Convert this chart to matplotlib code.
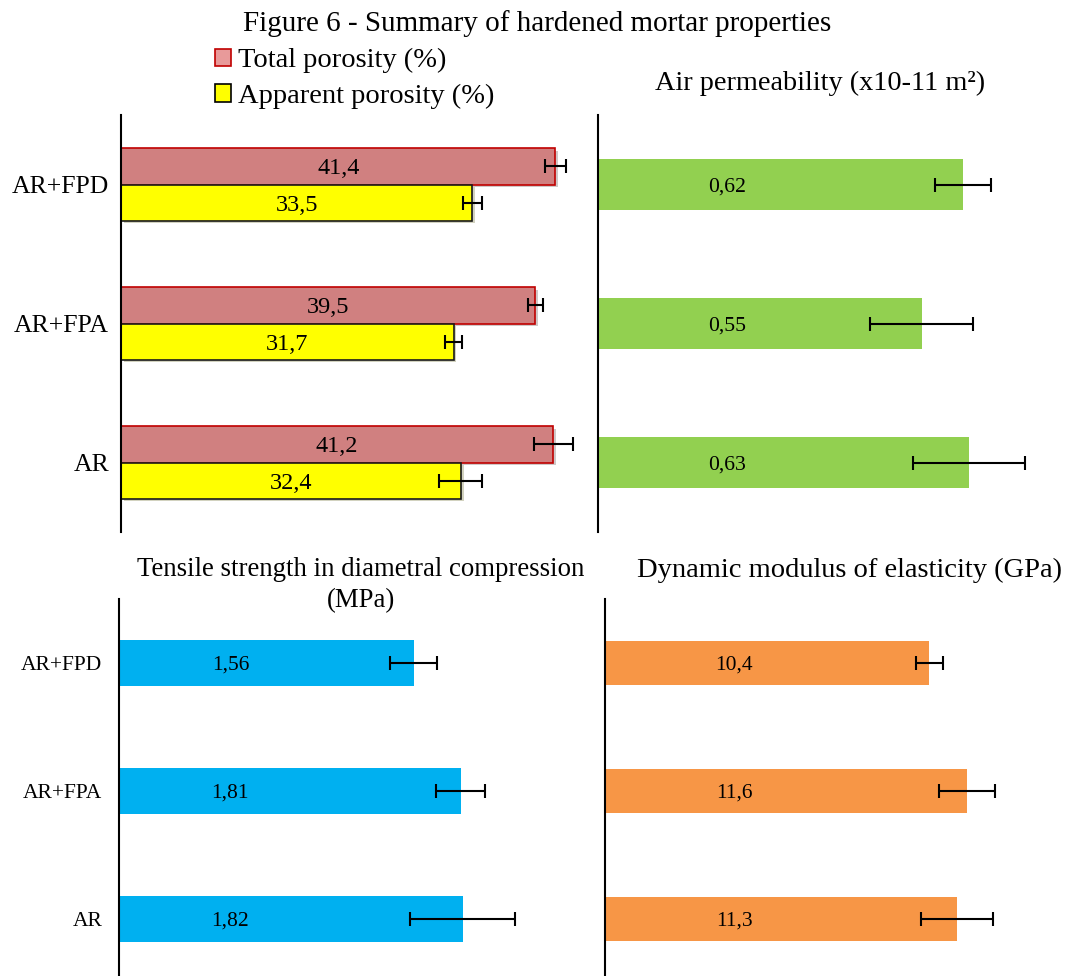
import matplotlib
matplotlib.use("Agg")
import matplotlib.pyplot as plt
import matplotlib.patheffects as pe
from matplotlib.patches import Patch

plt.rcParams['font.family'] = ['Liberation Serif', 'DejaVu Serif']

# mortar compositions, bottom to top
mixes = ['AR', 'AR+FPA', 'AR+FPD']

total_porosity = [41.2, 39.5, 41.4]
total_porosity_err = [1.85, 0.7, 1.0]
apparent_porosity = [32.4, 31.7, 33.5]
apparent_porosity_err = [2.05, 0.8, 0.95]

air_permeability = [0.63, 0.55, 0.62]
air_permeability_err = [0.095, 0.087, 0.047]

tensile_strength = [1.82, 1.81, 1.56]
tensile_strength_err = [0.28, 0.13, 0.125]

elastic_modulus = [11.3, 11.6, 10.4]
elastic_modulus_err = [1.15, 0.9, 0.43]

W, H = 1067, 976
fig = plt.figure(figsize=(W / 100, H / 100), dpi=100)


def add_axes_px(left, top, right, bottom):
    return fig.add_axes([left / W, 1 - bottom / H, (right - left) / W, (bottom - top) / H])


def style_axes(ax, tick_size, pad):
    for side in ['top', 'right', 'bottom']:
        ax.spines[side].set_visible(False)
    ax.spines['left'].set_linewidth(1.5)
    ax.set_xticks([])
    ax.set_yticks(range(len(mixes)))
    ax.set_yticklabels(mixes, fontsize=tick_size)
    ax.tick_params(axis='y', length=0, pad=pad)
    ax.set_ylim(-0.5, len(mixes) - 0.5)


def fmt(v, nd):
    return f"{v:.{nd}f}".replace('.', ',')


err_kw = dict(ecolor='black', elinewidth=1.5, capsize=5, capthick=1.5)
shadow = [pe.SimplePatchShadow(offset=(2, -2), alpha=0.25), pe.Normal()]

# porosity
ax1 = add_axes_px(121, 115, 590, 532)
style_axes(ax1, 18.5, 8.5)
ax1.set_xlim(0, 44.7)
h = 0.26
y = list(range(len(mixes)))
b1 = ax1.barh([v + h / 2 for v in y], total_porosity, height=h, color='#D08080',
              edgecolor='#C00000', linewidth=1.2, xerr=total_porosity_err, error_kw=err_kw)
b2 = ax1.barh([v - h / 2 for v in y], apparent_porosity, height=h, color='#FFFF00',
              edgecolor='#1a1a1a', linewidth=1.2, xerr=apparent_porosity_err, error_kw=err_kw)
for bar in list(b1) + list(b2):
    bar.set_path_effects(shadow)
for i in y:
    ax1.text(total_porosity[i] / 2, i + h / 2, fmt(total_porosity[i], 1),
             ha='center', va='center_baseline', fontsize=17.5)
    ax1.text(apparent_porosity[i] / 2, i - h / 2, fmt(apparent_porosity[i], 1),
             ha='center', va='center_baseline', fontsize=17.5)

leg = fig.legend(handles=[Patch(facecolor='#E89A9A', edgecolor='#C00000', linewidth=1.2,
                                label='Total porosity (%)'),
                          Patch(facecolor='#FFFF00', edgecolor='black', linewidth=1.2,
                                label='Apparent porosity (%)')],
                 loc='upper left', bbox_to_anchor=(215 / W, 1 - 48 / H), frameon=False,
                 fontsize=20.5, handlelength=0.55, handleheight=0.55, handletextpad=0.25,
                 labelspacing=0.38, borderaxespad=0, borderpad=0)

# air permeability
ax2 = add_axes_px(598, 115, 1057, 532)
style_axes(ax2, 18.5, 8.5)
ax2.set_yticklabels([])
ax2.set_xlim(0, 0.78)
ax2.barh(y, air_permeability, height=0.36, color='#92D050',
         xerr=air_permeability_err, error_kw=err_kw)
for i in y:
    ax2.text(0.22, i, fmt(air_permeability[i], 2), ha='center', va='center_baseline',
             fontsize=15.7)
ax2.set_title('Air permeability (x10-11 m²)', fontsize=20.3, pad=18, x=0.484)

# tensile strength
ax3 = add_axes_px(119, 599, 591, 983)
style_axes(ax3, 15.5, 12)
ax3.set_xlim(0, 2.5)
ax3.barh(y, tensile_strength, height=0.36, color='#00B0F0',
         xerr=tensile_strength_err, error_kw=err_kw)
for i in y:
    ax3.text(0.59, i, fmt(tensile_strength[i], 2), ha='center', va='center_baseline',
             fontsize=15.5)
fig.text(361 / W, 1 - 585 / H, 'Tensile strength in diametral compression\n(MPa)',
         ha='center', va='center', multialignment='center', fontsize=19.3,
         linespacing=1.35)

# dynamic modulus
ax4 = add_axes_px(605, 599, 1057, 983)
style_axes(ax4, 15.5, 12)
ax4.set_yticklabels([])
ax4.set_xlim(0, 14.5)
ax4.barh(y, elastic_modulus, height=0.35, color='#F79646',
         xerr=elastic_modulus_err, error_kw=err_kw)
for i in y:
    ax4.text(4.15, i, fmt(elastic_modulus[i], 1), ha='center', va='center_baseline',
             fontsize=15.5)
ax4.set_title('Dynamic modulus of elasticity (GPa)', fontsize=20.5, pad=16, x=0.542)

fig.text(537 / W, 1 - 24 / H, 'Figure 6 - Summary of hardened mortar properties',
         ha='center', va='center', fontsize=21)

fig.savefig('out.png', dpi=100)
